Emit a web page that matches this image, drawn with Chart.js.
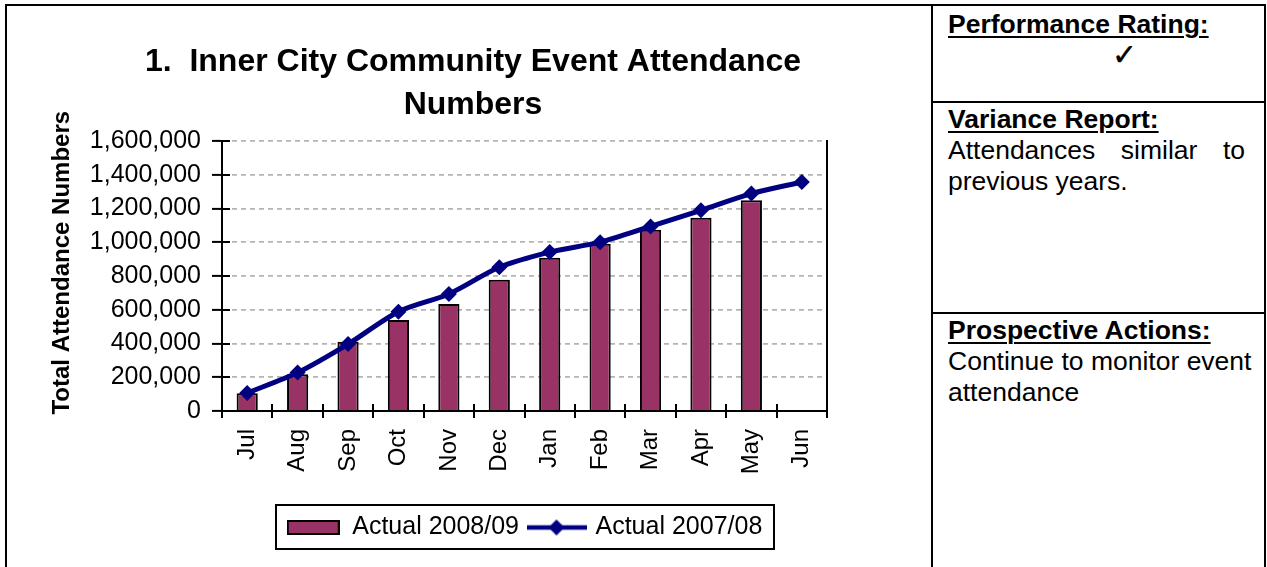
<!DOCTYPE html>
<html>
<head>
<meta charset="utf-8">
<script src="https://cdn.jsdelivr.net/npm/chart.js@4.4.1/dist/chart.umd.min.js"></script>
<style>
  html, body { margin: 0; padding: 0; background: #fff; }
  body { width: 1267px; height: 567px; position: relative; overflow: hidden;
         font-family: "Liberation Sans", Arial, sans-serif; color: #000; }
  .ln { position: absolute; background: #000; }
  #chartBox { position: absolute; left: 7px; top: 5px; width: 924px; height: 562px; }
  .cell { position: absolute; left: 948px; width: 315px; font-size: 26.5px; line-height: 31px; white-space: nowrap; }
  .cell b { text-decoration: underline; text-underline-offset: 3px; text-decoration-thickness: 2px; }
  .just { width: 297px; text-align: justify; text-align-last: justify; }
  .tick { width: 297px; text-align: center; padding-left: 56px; box-sizing: border-box;
          font-family: "DejaVu Sans", sans-serif; font-size: 30px; -webkit-text-stroke: 0.4px #000; line-height: 30px; }
</style>
</head>
<body>
<!-- table frame -->
<div class="ln" style="left:5px;top:4px;width:1261px;height:2px"></div>
<div class="ln" style="left:5px;top:4px;width:2px;height:563px"></div>
<div class="ln" style="left:931px;top:4px;width:2px;height:563px"></div>
<div class="ln" style="left:1264px;top:4px;width:2px;height:563px"></div>
<div class="ln" style="left:931px;top:101px;width:335px;height:2px"></div>
<div class="ln" style="left:931px;top:312px;width:335px;height:2px"></div>

<div class="cell" style="top:9px"><b>Performance Rating:</b><div class="tick">&#10003;</div></div>
<div class="cell" style="top:104px"><b>Variance Report:</b><div class="just">Attendances similar to</div><div>previous years.</div></div>
<div class="cell" style="top:315px"><b>Prospective Actions:</b><div>Continue to monitor event</div><div>attendance</div></div>

<div id="chartBox"><canvas id="c" width="924" height="562"></canvas></div>

<script>
const months = ['Jul','Aug','Sep','Oct','Nov','Dec','Jan','Feb','Mar','Apr','May','Jun'];
const actual0809 = [105000, 218000, 410000, 540000, 635000, 778000, 908000, 991000, 1075000, 1146000, 1250000, null];
const actual0708 = [107000, 228000, 397000, 589000, 694000, 852000, 942000, 1001000, 1094000, 1190000, 1289000, 1358000];
const yTicks = [0, 200000, 400000, 600000, 800000, 1000000, 1200000, 1400000, 1600000];

const BAR = '#993366', LINE = '#000080';
const FONT = '"Liberation Sans", Arial, sans-serif';
Chart.defaults.font.family = FONT;
Chart.defaults.color = '#000';

// legend swatches
function barSwatch() {
  const c = document.createElement('canvas');
  c.width = 53; c.height = 15;
  const g = c.getContext('2d');
  g.fillStyle = BAR; g.fillRect(1, 1, 51, 13);
  g.strokeStyle = '#000'; g.lineWidth = 2; g.strokeRect(1, 1, 51, 13);
  return c;
}
function lineSwatch() {
  const c = document.createElement('canvas');
  c.width = 60; c.height = 18;
  const g = c.getContext('2d');
  g.strokeStyle = LINE; g.lineWidth = 4.5;
  g.beginPath(); g.moveTo(0, 9); g.lineTo(60, 9); g.stroke();
  g.fillStyle = LINE;
  g.beginPath(); g.moveTo(30, 1); g.lineTo(38, 9); g.lineTo(30, 17); g.lineTo(22, 9); g.closePath(); g.fill();
  return c;
}
const swatches = [barSwatch(), lineSwatch()];

// cross ticks (Excel style) + legend frame
const extras = {
  id: 'extras',
  afterDraw(chart) {
    const {ctx, chartArea: a, scales: {x, y}, legend} = chart;
    ctx.save();
    ctx.strokeStyle = '#000';
    ctx.lineWidth = 2;
    ctx.beginPath();
    yTicks.forEach(v => { const py = Math.round(y.getPixelForValue(v)); ctx.moveTo(a.left, py); ctx.lineTo(a.left + 8, py); });
    for (let i = 0; i <= months.length; i++) {
      const px = Math.round(x.getPixelForValue(i - 0.5));
      ctx.moveTo(px, a.bottom); ctx.lineTo(px, a.bottom - 7);
    }
    ctx.stroke();
    const hb = legend.legendHitBoxes;
    if (hb && hb.length) {
      const l = hb[0].left - 11, r = hb[hb.length - 1].left + hb[hb.length - 1].width + 11;
      ctx.strokeRect(Math.round(l), legend.top + 1, Math.round(r - l), legend.height - 2);
    }
    ctx.restore();
  }
};

new Chart(document.getElementById('c'), {
  data: {
    labels: months,
    datasets: [
      { type: 'bar', label: 'Actual 2008/09', data: actual0809, backgroundColor: BAR, borderColor: '#000', borderWidth: 2,
        barPercentage: 0.42, categoryPercentage: 1, order: 2 },
      { type: 'line', label: 'Actual 2007/08', data: actual0708, borderColor: LINE, backgroundColor: LINE, borderWidth: 5,
        tension: 0.3, pointStyle: 'rectRot', pointRadius: 8, pointBorderWidth: 0, order: 1 }
    ]
  },
  options: {
    responsive: false,
    animation: false,
    layout: { padding: { left: 41, right: 33, top: 0, bottom: 17 } },
    plugins: {
      title: {
        display: true,
        text: ['1.  Inner City Community Event Attendance', 'Numbers'],
        font: { size: 32, weight: 'bold', lineHeight: 1.33 },
        color: '#000',
        padding: { top: 36, bottom: 15 }
      },
      legend: {
        position: 'bottom',
        fullSize: false,
        labels: {
          usePointStyle: true,
          pointStyleWidth: 53,
          padding: 11,
          font: { size: 25 },
          color: '#000',
          sort: (a, b) => a.datasetIndex - b.datasetIndex,
          generateLabels(chart) {
            return Chart.defaults.plugins.legend.labels.generateLabels(chart)
              .map(it => Object.assign(it, { pointStyle: swatches[it.datasetIndex] }));
          }
        }
      },
      tooltip: { enabled: false }
    },
    scales: {
      x: {
        grid: { display: true, drawOnChartArea: false, offset: true, tickLength: 7, color: '#000', lineWidth: 2 },
        border: { display: true, color: '#000', width: 2 },
        ticks: { autoSkip: false, minRotation: 90, maxRotation: 90, padding: 11, font: { size: 24 }, color: '#000' },
        afterFit: s => { s.height = 93; }
      },
      y: {
        min: 0, max: 1600000,
        afterBuildTicks: s => { s.ticks = yTicks.map(v => ({ value: v })); },
        grid: { color: '#b4b4b4', lineWidth: 1.8, tickColor: '#000', tickWidth: 2, tickLength: 10 },
        border: { display: true, color: '#000', width: 2, dash: [5, 4] },
        ticks: { padding: 11, font: { size: 25 }, color: '#000', callback: v => v.toLocaleString('en-US') },
        title: { display: true, text: '    Total Attendance Numbers', font: { size: 24, weight: 'bold' }, color: '#000', padding: { top: 0, bottom: 0 } },
        afterFit: s => { s.width = 174; }
      },
      y2: {
        position: 'right',
        min: 0, max: 1,
        grid: { display: false },
        ticks: { display: false },
        border: { display: true, color: '#000', width: 2 },
        afterFit: s => { s.width = 71; }
      }
    }
  },
  plugins: [extras]
});
</script>
</body>
</html>
